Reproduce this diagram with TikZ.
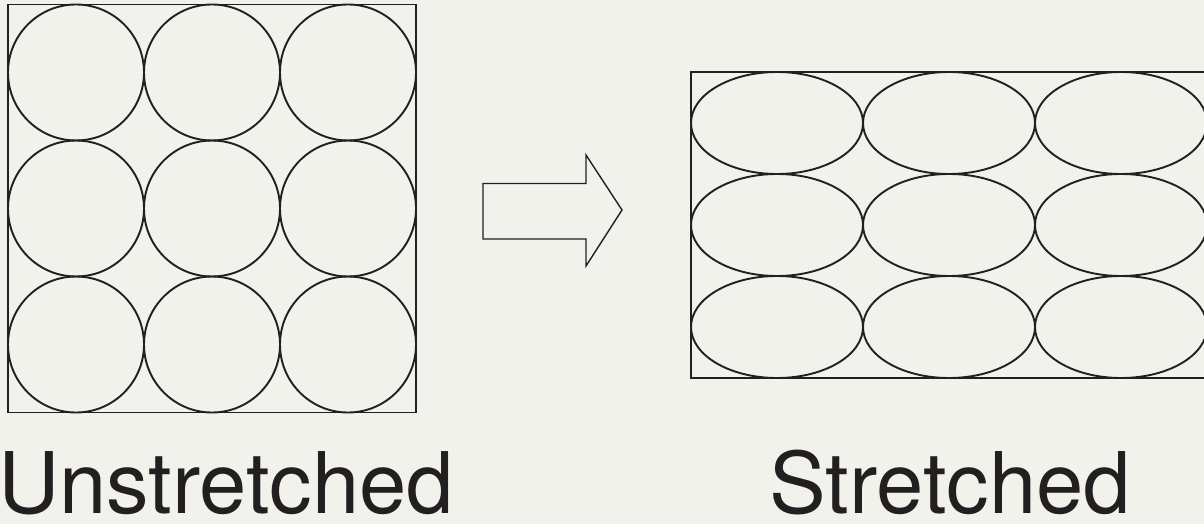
\documentclass[tikz,border=0pt]{standalone}
\usepackage{fontspec}
\setmainfont{TeX Gyre Heros}
\definecolor{bg}{RGB}{242,242,237}
\definecolor{ink}{RGB}{35,31,32}
\begin{document}
\begin{tikzpicture}[x=1pt,y=-1pt,
  shape line/.style={draw=ink,line width=1.9pt},
  label text/.style={inner sep=0pt,anchor=base,text depth=0pt,text=ink,font=\fontsize{85}{90}\selectfont}]
\fill[bg] (0,0) rectangle (1204,524);
\useasboundingbox (0,0) rectangle (1204,524);
\clip (0,0) rectangle (1204,524);
% unstretched
\draw[shape line] (8,4.5) rectangle (416,412.5);
\foreach \i in {0,1,2}{
  \foreach \j in {0,1,2}{
    \draw[shape line] ({76+136*\i},{72.5+136*\j}) circle[radius=68];
  }
}
% arrow
\draw[shape line,line width=1.4pt,line join=miter] (483,183.5) -- (586,183.5) -- (586,155) -- (622,210) -- (586,266) -- (586,239) -- (483,239) -- cycle;
% stretched
\draw[shape line] (691,72) rectangle (1207,378);
\foreach \i in {0,1,2}{
  \foreach \j in {0,1,2}{
    \draw[shape line] ({777+172*\i},{123+102*\j}) ellipse[x radius=86,y radius=51];
  }
}
\node[label text] (un) at (226,513) {Unstretched};
\node[label text] (st) at (950,513) {Stretched};
\end{tikzpicture}
\end{document}
